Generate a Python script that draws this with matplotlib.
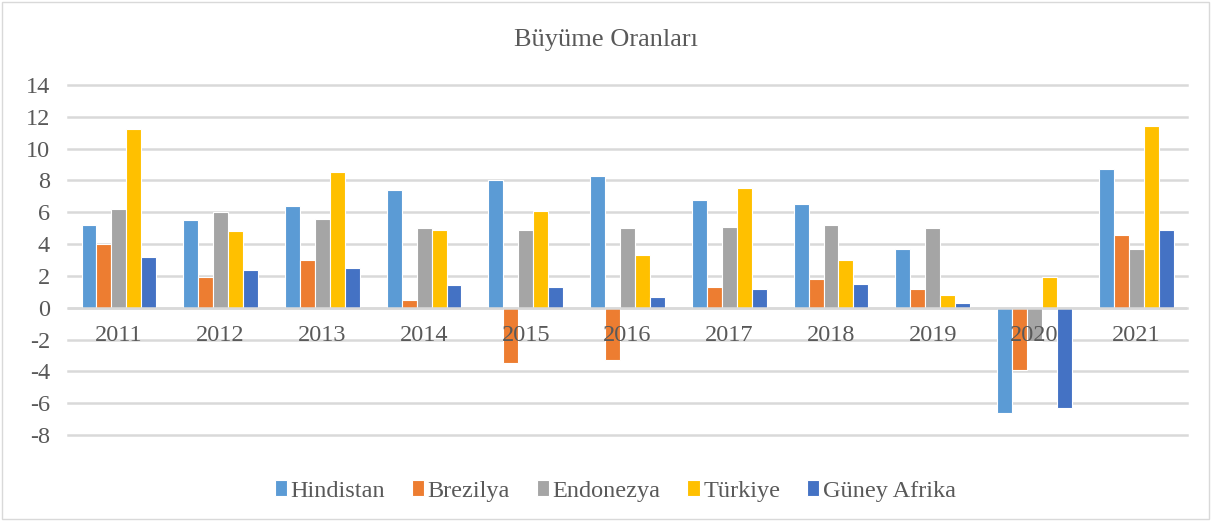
import numpy as np
import matplotlib.pyplot as plt
from matplotlib.patches import Rectangle

# veriler
yillar = ['2011', '2012', '2013', '2014', '2015', '2016', '2017', '2018', '2019', '2020', '2021']
hindistan = [5.2, 5.5, 6.4, 7.4, 8.0, 8.3, 6.8, 6.5, 3.7, -6.6, 8.7]
brezilya = [4.0, 1.9, 3.0, 0.5, -3.5, -3.3, 1.3, 1.8, 1.2, -3.9, 4.6]
endonezya = [6.2, 6.0, 5.6, 5.0, 4.9, 5.0, 5.1, 5.2, 5.0, -2.1, 3.7]
turkiye = [11.2, 4.8, 8.5, 4.9, 6.1, 3.3, 7.5, 3.0, 0.8, 1.9, 11.4]
guney_afrika = [3.2, 2.4, 2.5, 1.4, 1.3, 0.7, 1.2, 1.5, 0.3, -6.3, 4.9]

seriler = ['Hindistan', 'Brezilya', 'Endonezya', 'Türkiye', 'Güney Afrika']
degerler = [hindistan, brezilya, endonezya, turkiye, guney_afrika]
renkler = ['#5B9BD5', '#ED7D31', '#A5A5A5', '#FFC000', '#4472C4']

plt.rcParams['font.family'] = ['Liberation Serif', 'DejaVu Serif']
plt.rcParams['axes.unicode_minus'] = False
yazi_rengi = '#595959'

fig = plt.figure(figsize=(12.11, 5.21), dpi=100)
ax = fig.add_axes([0.0562, 0.165, 0.924, 0.672])

x = np.arange(len(yillar))
w = 0.147
for i, (ad, d, r) in enumerate(zip(seriler, degerler, renkler)):
    ax.bar(x + (i - 2) * w, d, width=w, color=r, edgecolor='white',
           linewidth=0.8, label=ad, zorder=3)

ax.set_xlim(-0.5, len(yillar) - 0.5)
ax.set_ylim(-8, 14)
ax.set_yticks(np.arange(-8, 15, 2))
ax.yaxis.grid(True, color='#d9d9d9', linewidth=1.8, zorder=0)
for gl in ax.get_ygridlines():
    gl.set_clip_on(False)
ax.axhline(0, color='#d9d9d9', linewidth=1.8, zorder=4)
for s in ax.spines.values():
    s.set_visible(False)
ax.tick_params(axis='y', length=0, labelsize=17.5, labelcolor=yazi_rengi, pad=13)
ax.set_xticks([])

# yıl etiketleri sıfır çizgisinin altında
for xi, yil in zip(x, yillar):
    ax.text(xi, -1.75, yil, ha='center', va='center', fontsize=17.5,
            color=yazi_rengi, zorder=5)

fig.text(0.5, 0.923, 'Büyüme Oranları', ha='center', va='center',
         fontsize=19, color=yazi_rengi)

ax.legend(loc='center', bbox_to_anchor=(0.489, -0.16), ncol=5, frameon=False,
          fontsize=17.5, handlelength=0.5, handleheight=0.6,
          handletextpad=0.15, columnspacing=1.1, labelcolor=yazi_rengi)

fig.patches.append(Rectangle((0.002, 0.003), 0.996, 0.994, transform=fig.transFigure,
                             fill=False, edgecolor='#d9d9d9', linewidth=1))

fig.savefig('out.png', dpi=100)
